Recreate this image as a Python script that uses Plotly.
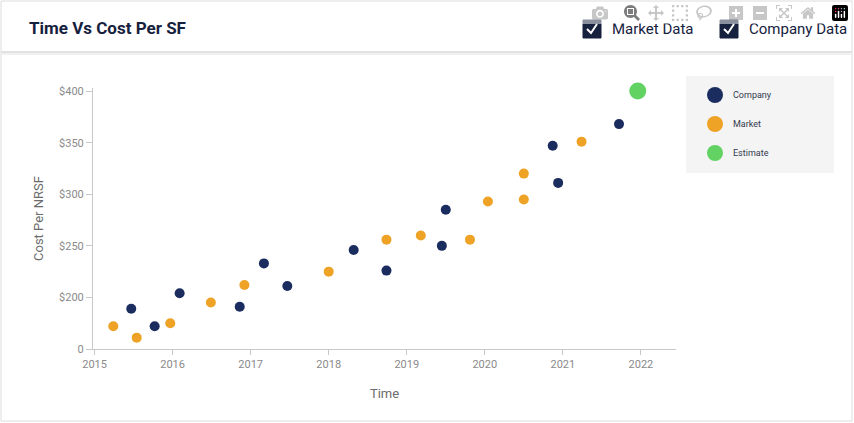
import plotly.graph_objects as go

company_x = [2015.47, 2015.77, 2016.09, 2016.86, 2017.17, 2017.47, 2018.32, 2018.74, 2019.45, 2019.50, 2020.87, 2020.94, 2021.72]
company_y = [189, 172, 204, 191, 233, 211, 246, 226, 250, 285, 347, 311, 368]
market_x = [2015.24, 2015.54, 2015.97, 2016.49, 2016.92, 2018.00, 2018.74, 2019.18, 2019.81, 2020.04, 2020.50, 2020.50, 2021.24]
market_y = [172, 161, 175, 195, 212, 225, 256, 260, 256, 293, 320, 295, 351]
estimate_x = [2021.96]
estimate_y = [400]
x_ticks = [2015, 2016, 2017, 2018, 2019, 2020, 2021, 2022]
y_ticks = [150, 200, 250, 300, 350, 400]
y_tick_text = ["0", "$200", "$250", "$300", "$350", "$400"]

NAVY = "#1b2d5f"
ORANGE = "#eea326"
GREEN = "#62d262"

W, H = 854, 423
L, R, T, B = 93, 676, 88, 349

def px(x):
    return (x - L) / (R - L)

def py(y):
    return (B - y) / (B - T)

fig = go.Figure()
fig.add_trace(go.Scatter(x=company_x, y=company_y, mode="markers", cliponaxis=False,
                         marker=dict(color=NAVY, size=10), name="Company"))
fig.add_trace(go.Scatter(x=market_x, y=market_y, mode="markers", cliponaxis=False,
                         marker=dict(color=ORANGE, size=10), name="Market"))
fig.add_trace(go.Scatter(x=estimate_x, y=estimate_y, mode="markers", cliponaxis=False,
                         marker=dict(color=GREEN, size=17), name="Estimate"))

shapes = []
ann = []
shapes.append(dict(type="rect", xref="paper", yref="paper", x0=px(1), x1=px(852), y0=py(421), y1=py(1),
                   line=dict(color="#dcdcdc", width=1), fillcolor="rgba(0,0,0,0)", layer="below"))
shapes.append(dict(type="line", xref="paper", yref="paper", x0=px(1), x1=px(852), y0=py(52), y1=py(52),
                   line=dict(color="#e2e2e2", width=2)))
shapes.append(dict(type="line", xref="paper", yref="paper", x0=px(1), x1=px(852), y0=py(54), y1=py(54),
                   line=dict(color="#f0f0f0", width=2)))
ann.append(dict(text="<b>Time Vs Cost Per SF</b>", xref="paper", yref="paper", x=px(27), y=py(28),
                xanchor="left", yanchor="middle", showarrow=False, font=dict(size=17, color="#16213e")))
for bx, label in [(583, "Market Data"), (720, "Company Data")]:
    shapes.append(dict(type="rect", xref="paper", yref="paper", x0=px(bx), x1=px(bx + 18), y0=py(38), y1=py(20),
                       fillcolor="#16213e", line=dict(color="#16213e", width=1)))
    shapes.append(dict(type="path", xref="paper", yref="paper",
                       path=f"M {px(bx+4)} {py(29)} L {px(bx+8)} {py(33)} L {px(bx+14)} {py(24)}",
                       line=dict(color="white", width=2)))
    ann.append(dict(text=label, xref="paper", yref="paper", x=px(bx + 27), y=py(29), xanchor="left",
                    yanchor="middle", showarrow=False, font=dict(size=15, color="#16213e")))
shapes.append(dict(type="rect", xref="paper", yref="paper", x0=px(686), x1=px(834), y0=py(173), y1=py(76),
                   fillcolor="#f4f4f5", line=dict(width=0), layer="below"))
for cy, col, lab, r in [(95, NAVY, "Company", 8), (124, ORANGE, "Market", 8), (153, GREEN, "Estimate", 8)]:
    shapes.append(dict(type="circle", xref="paper", yref="paper", x0=px(715 - r), x1=px(715 + r),
                       y0=py(cy + r), y1=py(cy - r), fillcolor=col, line=dict(width=0)))
    ann.append(dict(text=lab, xref="paper", yref="paper", x=px(731), y=py(cy), xanchor="left",
                    yanchor="middle", showarrow=False, font=dict(size=9, color="#333a4d")))

fig.update_layout(
    width=W, height=H, margin=dict(l=L, r=W - R, t=T, b=H - B),
    paper_bgcolor="white", plot_bgcolor="white", showlegend=False,
    font=dict(family="Roboto", color="#8a8a8a"),
    shapes=shapes, annotations=ann,
    xaxis=dict(range=[2014.98, 2022.45], tickvals=x_ticks, showgrid=False, zeroline=False,
               showline=True, linecolor="#c8c8c8", ticks="outside", tickcolor="#c8c8c8", ticklen=5,
               tickfont=dict(size=11, color="#8a8a8a"),
               title=dict(text="Time", font=dict(size=13, color="#6b6b6b"), standoff=18)),
    yaxis=dict(range=[150, 403], tickvals=y_ticks, ticktext=y_tick_text, showgrid=False, zeroline=False,
               showline=True, linecolor="#c8c8c8", ticks="outside", tickcolor="#c8c8c8", ticklen=6,
               tickfont=dict(size=11, color="#8a8a8a"),
               title=dict(text="Cost Per NRSF", font=dict(size=13, color="#6b6b6b"), standoff=12)),
)
fig.write_html("out.html",
               post_script="document.body.style.margin='0';document.body.style.overflow='hidden';")
